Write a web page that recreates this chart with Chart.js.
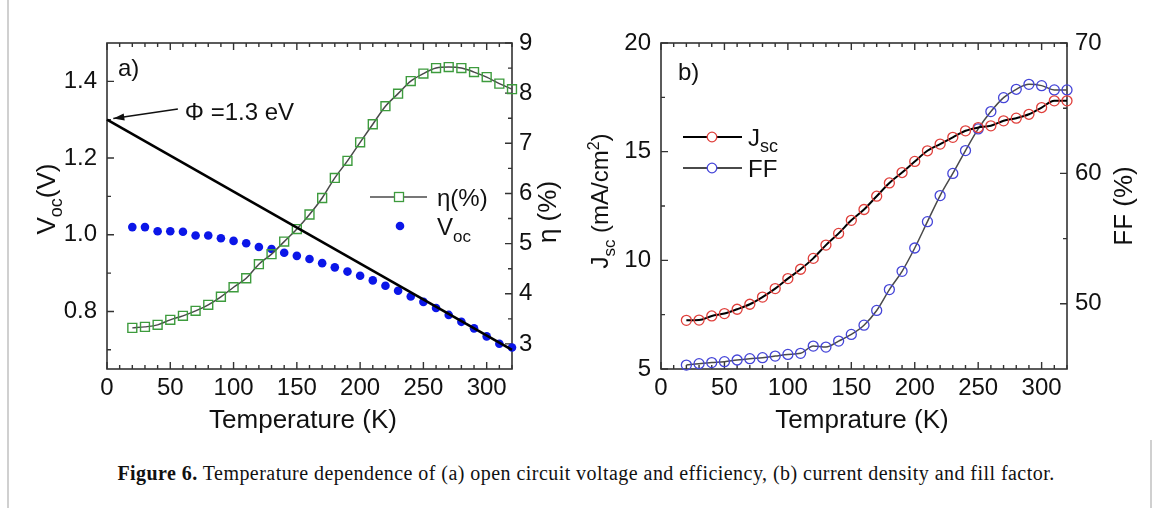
<!DOCTYPE html>
<html><head><meta charset="utf-8">
<script src="https://cdn.jsdelivr.net/npm/chart.js@4.4.1/dist/chart.umd.min.js"></script>
<style>
html,body{margin:0;padding:0;background:#fff;}
body{width:1167px;height:508px;position:relative;overflow:hidden;}
#ca{position:absolute;left:0;top:0;}
#cb{position:absolute;left:580px;top:0;}
#cap{position:absolute;left:0;top:462px;width:1172px;text-align:center;font-family:'Liberation Serif',serif;font-size:20px;letter-spacing:0.45px;color:#111;white-space:nowrap;}
#bl{position:absolute;left:7px;top:0;width:2px;height:508px;background:#d0d0d0;}
#br{position:absolute;left:1150px;top:440px;width:2px;height:68px;background:#d0d0d0;}
</style></head><body>
<div id="bl"></div>
<div id="br"></div>
<canvas id="ca" width="580" height="440"></canvas>
<canvas id="cb" width="587" height="440"></canvas>
<div id="cap"><b>Figure 6.</b> Temperature dependence of (a) open circuit voltage and efficiency, (b) current density and fill factor.</div>
<script>
// ---- data ----
const temperature = [20,30,40,50,60,70,80,90,100,110,120,130,140,150,160,170,180,190,200,210,220,230,240,250,260,270,280,290,300,310,320];
const vocValues = [1.020,1.020,1.009,1.009,1.008,0.998,0.998,0.991,0.984,0.978,0.968,0.963,0.953,0.945,0.937,0.926,0.915,0.904,0.893,0.881,0.867,0.854,0.839,0.825,0.809,0.791,0.773,0.756,0.735,0.716,0.706];
const etaValues = [3.32,3.34,3.38,3.48,3.56,3.66,3.78,3.94,4.13,4.31,4.59,4.79,5.04,5.29,5.58,5.91,6.31,6.65,7.02,7.38,7.74,7.99,8.24,8.39,8.50,8.52,8.50,8.42,8.32,8.19,8.08];
const fitTemperature = [0,320];
const fitVoltage = [1.30,0.70];
const jscValues = [7.24,7.25,7.44,7.55,7.75,7.98,8.31,8.70,9.16,9.59,10.09,10.70,11.24,11.84,12.34,12.95,13.56,14.04,14.55,15.04,15.35,15.66,15.96,16.11,16.19,16.42,16.54,16.72,17.03,17.34,17.34];
const ffValues = [45.30,45.41,45.49,45.56,45.69,45.79,45.87,45.99,46.12,46.20,46.76,46.68,47.14,47.65,48.36,49.49,51.09,52.49,54.28,56.3,58.3,60.0,61.75,63.41,64.74,65.81,66.45,66.83,66.73,66.4,66.4];
// tick labels
const xTickValues = [0,50,100,150,200,250,300];
const xMinorValues = [10,20,30,40,60,70,80,90,110,120,130,140,160,170,180,190,210,220,230,240,260,270,280,290,310,320];
const vocTickValues = [0.8,1.0,1.2,1.4];
const vocMinorValues = [0.7,0.9,1.1,1.3];
const etaTickValues = [3,4,5,6,7,8,9];
const etaMinorValues = [3.5,4.5,5.5,6.5,7.5,8.5];
const jscTickValues = [5,10,15,20];
const jscMinorValues = [7.5,12.5,17.5];
const ffTickValues = [50,60,70];
const ffMinorValues = [55,65];

const SANS = "'Liberation Sans', Arial, sans-serif";
const INK = '#111';
const AXIS = '#333';

function pts(xs, ys){ return xs.map((x,i)=>({x:x, y:ys[i]})); }

function rich(ctx, parts, x, y, rot, align){
  ctx.save(); ctx.translate(x,y); ctx.rotate(rot||0);
  let w = 0;
  for (const p of parts){ ctx.font = p.size+'px '+(p.fam||SANS); p.w = ctx.measureText(p.t).width; w += p.w; }
  let cx = align==='center' ? -w/2 : 0;
  ctx.textBaseline = 'alphabetic'; ctx.fillStyle = INK;
  for (const p of parts){ ctx.font = p.size+'px '+(p.fam||SANS); ctx.fillText(p.t, cx, p.dy||0); cx += p.w; }
  ctx.restore();
}

function drawFrameTicks(chart, spec){
  const ctx = chart.ctx, a = chart.chartArea;
  const X = chart.scales.x, Y = chart.scales.y, Y2 = chart.scales.y2;
  ctx.save();
  ctx.strokeStyle = AXIS; ctx.lineWidth = 1.6;
  ctx.strokeRect(a.left, a.top, a.right-a.left, a.bottom-a.top);
  ctx.lineWidth = 1.4;
  ctx.beginPath();
  const MJ = 7, MN = 4;
  spec.xMajor.forEach(v=>{ const p = X.getPixelForValue(v); ctx.moveTo(p,a.bottom); ctx.lineTo(p,a.bottom-MJ); ctx.moveTo(p,a.top); ctx.lineTo(p,a.top+MJ); });
  spec.xMinor.forEach(v=>{ const p = X.getPixelForValue(v); ctx.moveTo(p,a.bottom); ctx.lineTo(p,a.bottom-MN); ctx.moveTo(p,a.top); ctx.lineTo(p,a.top+MN); });
  spec.yMajor.forEach(v=>{ const p = Y.getPixelForValue(v); ctx.moveTo(a.left,p); ctx.lineTo(a.left+MJ,p); });
  spec.yMinor.forEach(v=>{ const p = Y.getPixelForValue(v); ctx.moveTo(a.left,p); ctx.lineTo(a.left+MN,p); });
  spec.y2Major.forEach(v=>{ const p = Y2.getPixelForValue(v); ctx.moveTo(a.right,p); ctx.lineTo(a.right-MJ,p); });
  spec.y2Minor.forEach(v=>{ const p = Y2.getPixelForValue(v); ctx.moveTo(a.right,p); ctx.lineTo(a.right-MN,p); });
  ctx.stroke();
  ctx.restore();
}

function tickFont(){ return {family:SANS, size:24}; }

function makeScales(o){
  return {
    x:{ type:'linear', min:0, max:320, position:'bottom',
        grid:{display:false, drawTicks:false}, border:{display:false},
        ticks:{font:tickFont(), color:INK, padding:5, maxRotation:0, autoSkip:false, callback:v=>String(v)},
        afterBuildTicks:s=>{ s.ticks = xTickValues.map(v=>({value:v})); },
        afterFit:s=>{ s.height = o.xH; } },
    y:{ type:'linear', min:o.yMin, max:o.yMax, position:'left',
        grid:{display:false, drawTicks:false}, border:{display:false},
        ticks:{font:tickFont(), color:INK, padding:10, autoSkip:false, callback:o.yFmt},
        afterBuildTicks:s=>{ s.ticks = o.yTicks.map(v=>({value:v})); },
        afterFit:s=>{ s.width = o.yW; } },
    y2:{ type:'linear', min:o.y2Min, max:o.y2Max, position:'right',
        grid:{display:false, drawTicks:false}, border:{display:false},
        ticks:{font:tickFont(), color:INK, padding:o.y2Pad, autoSkip:false, callback:v=>String(v)},
        afterBuildTicks:s=>{ s.ticks = o.y2Ticks.map(v=>({value:v})); },
        afterFit:s=>{ s.width = o.y2W; } }
  };
}

// ---------- Panel (a) ----------
const panelA = {
  id:'panelA',
  beforeDatasetsDraw(chart){
    drawFrameTicks(chart, {xMajor:xTickValues, xMinor:xMinorValues, yMajor:vocTickValues, yMinor:vocMinorValues, y2Major:etaTickValues, y2Minor:etaMinorValues});
  },
  afterDraw(chart){
    const ctx = chart.ctx, X = chart.scales.x, Y = chart.scales.y;
    rich(ctx, [{t:'V',size:26},{t:'oc',size:18,dy:7},{t:'(V)',size:26}], 55, 199, -Math.PI/2, 'center');
    rich(ctx, [{t:'η (%)',size:26}], 556, 212, -Math.PI/2, 'center');
    rich(ctx, [{t:'Temperature (K)',size:26}], 303, 428, 0, 'center');
    rich(ctx, [{t:'a)',size:24}], 118, 76, 0, 'left');
    const tipX = X.getPixelForValue(5), tipY = Y.getPixelForValue(1.303);
    const tailX = X.getPixelForValue(56), tailY = Y.getPixelForValue(1.328);
    ctx.save(); ctx.strokeStyle='#111'; ctx.fillStyle='#111'; ctx.lineWidth=1.5;
    ctx.beginPath(); ctx.moveTo(tailX,tailY); ctx.lineTo(tipX,tipY); ctx.stroke();
    const ang = Math.atan2(tipY-tailY, tipX-tailX);
    ctx.beginPath(); ctx.moveTo(tipX,tipY);
    ctx.lineTo(tipX-11*Math.cos(ang)+3.5*Math.sin(ang), tipY-11*Math.sin(ang)-3.5*Math.cos(ang));
    ctx.lineTo(tipX-11*Math.cos(ang)-3.5*Math.sin(ang), tipY-11*Math.sin(ang)+3.5*Math.cos(ang));
    ctx.closePath(); ctx.fill(); ctx.restore();
    rich(ctx, [{t:'Φ =1.3 eV',size:24}], X.getPixelForValue(61.5), Y.getPixelForValue(1.300), 0, 'left');
    const ds = chart.data.datasets;
    ctx.save();
    ctx.strokeStyle = ds[1].borderColor; ctx.lineWidth = ds[1].borderWidth;
    ctx.beginPath(); ctx.moveTo(370,197); ctx.lineTo(427,197); ctx.stroke();
    ctx.fillStyle='#fff'; ctx.fillRect(394.5,192.5,9,9);
    ctx.strokeStyle = ds[1].pointBorderColor; ctx.lineWidth = 1.3; ctx.strokeRect(394.5,192.5,9,9);
    ctx.fillStyle = ds[2].pointBackgroundColor; ctx.beginPath(); ctx.arc(400,226,4.3,0,Math.PI*2); ctx.fill();
    ctx.restore();
    rich(ctx, [{t:'η(%)',size:24}], 437, 206, 0, 'left');
    rich(ctx, [{t:'V',size:24},{t:'oc',size:17,dy:7}], 437, 235, 0, 'left');
  }
};

new Chart(document.getElementById('ca'), {
  type:'line',
  data:{ datasets:[
    { label:'Φ fit', data:pts(fitTemperature, fitVoltage), yAxisID:'y', borderColor:'#000', borderWidth:2.6, pointRadius:0, tension:0, clip:false },
    { label:'η(%)', data:pts(temperature, etaValues), yAxisID:'y2', borderColor:'#4a4a4a', borderWidth:1.5,
      cubicInterpolationMode:'monotone', pointStyle:'rect', pointRadius:6.3, pointBorderColor:'#3d9b3d',
      pointBackgroundColor:'rgba(255,255,255,0)', pointBorderWidth:1.4, clip:false },
    { label:'Voc', data:pts(temperature, vocValues), yAxisID:'y', showLine:false, pointRadius:4.3,
      pointBackgroundColor:'#0b16e8', pointBorderColor:'#0b16e8', pointBorderWidth:0, clip:false }
  ]},
  options:{ responsive:false, animation:false, devicePixelRatio:1,
    layout:{padding:{top:43,left:0,right:0,bottom:0}},
    plugins:{legend:{display:false}, tooltip:{enabled:false}},
    scales: makeScales({xH:71, yMin:0.65, yMax:1.5, yTicks:vocTickValues, yFmt:v=>v.toFixed(1), yW:107,
                        y2Min:2.5, y2Max:9, y2Ticks:etaTickValues, y2W:68, y2Pad:7})
  },
  plugins:[panelA]
});

// ---------- Panel (b) ----------
const panelB = {
  id:'panelB',
  beforeDatasetsDraw(chart){
    drawFrameTicks(chart, {xMajor:xTickValues, xMinor:xMinorValues, yMajor:jscTickValues, yMinor:jscMinorValues, y2Major:ffTickValues, y2Minor:ffMinorValues});
  },
  afterDraw(chart){
    const ctx = chart.ctx;
    rich(ctx, [{t:'J',size:24},{t:'sc',size:17,dy:7},{t:' (mA/cm',size:24},{t:'2',size:16,dy:-9},{t:')',size:24}], 28, 201, -Math.PI/2, 'center');
    rich(ctx, [{t:'FF (%)',size:26}], 552, 206, -Math.PI/2, 'center');
    rich(ctx, [{t:'Temprature (K)',size:26}], 282, 428, 0, 'center');
    rich(ctx, [{t:'b)',size:24}], 98, 80, 0, 'left');
    const ds = chart.data.datasets;
    ctx.save();
    [[0,137],[1,168]].forEach(([i,y])=>{
      ctx.strokeStyle = ds[i].borderColor; ctx.lineWidth = 2;
      ctx.beginPath(); ctx.moveTo(103,y); ctx.lineTo(162,y); ctx.stroke();
      ctx.fillStyle='#fff'; ctx.beginPath(); ctx.arc(132,y,4.8,0,Math.PI*2); ctx.fill();
      ctx.strokeStyle = ds[i].pointBorderColor; ctx.lineWidth = 1.3; ctx.stroke();
    });
    ctx.restore();
    rich(ctx, [{t:'J',size:24},{t:'sc',size:18,dy:6}], 168, 146, 0, 'left');
    rich(ctx, [{t:'FF',size:24}], 168, 177, 0, 'left');
  }
};

new Chart(document.getElementById('cb'), {
  type:'line',
  data:{ datasets:[
    { label:'Jsc', data:pts(temperature, jscValues), yAxisID:'y', borderColor:'#000', borderWidth:2,
      cubicInterpolationMode:'monotone', pointRadius:5, pointBorderColor:'#e0403c',
      pointBackgroundColor:'rgba(255,255,255,0)', pointBorderWidth:1.3, clip:false },
    { label:'FF', data:pts(temperature, ffValues), yAxisID:'y2', borderColor:'#4a4a4a', borderWidth:1.5,
      cubicInterpolationMode:'monotone', pointRadius:5, pointBorderColor:'#4545d8',
      pointBackgroundColor:'rgba(255,255,255,0)', pointBorderWidth:1.3, clip:false }
  ]},
  options:{ responsive:false, animation:false, devicePixelRatio:1,
    layout:{padding:{top:43,left:0,right:0,bottom:0}},
    plugins:{legend:{display:false}, tooltip:{enabled:false}},
    scales: makeScales({xH:71, yMin:5, yMax:20, yTicks:jscTickValues, yFmt:v=>String(v), yW:81,
                        y2Min:45, y2Max:70, y2Ticks:ffTickValues, y2W:100, y2Pad:8})
  },
  plugins:[panelB]
});
</script>
</body></html>
